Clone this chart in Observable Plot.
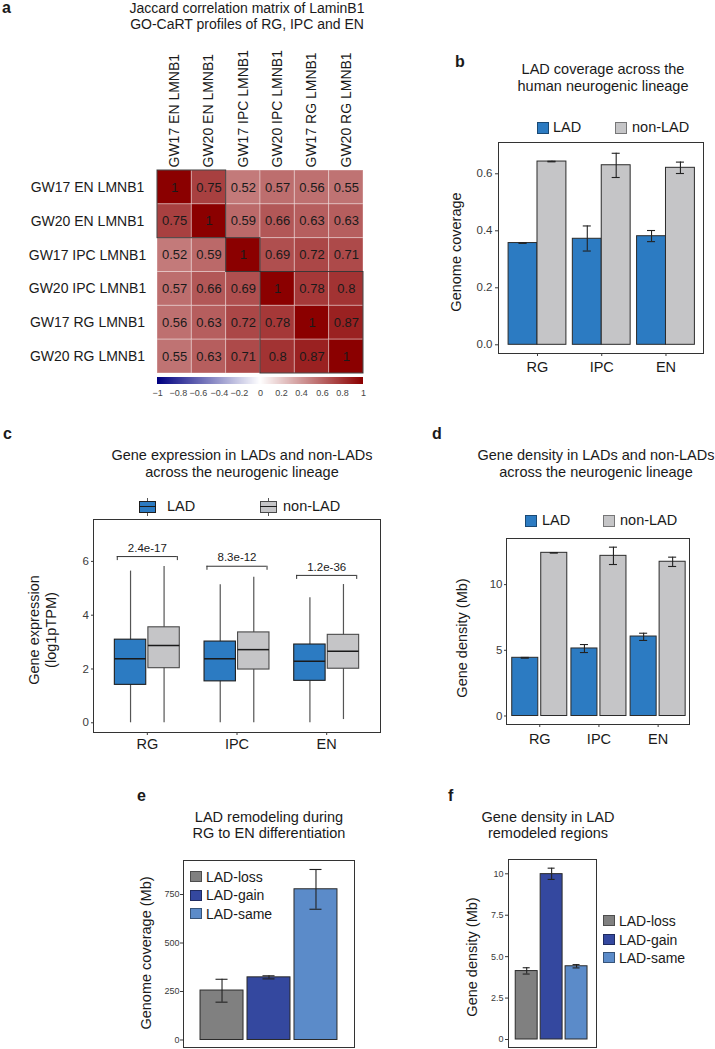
<!DOCTYPE html>
<html><head><meta charset="utf-8">
<script src="https://cdn.jsdelivr.net/npm/d3@7"></script>
<script src="https://cdn.jsdelivr.net/npm/@observablehq/plot@0.6"></script>
<style>
html,body{margin:0;padding:0;background:#fff;overflow:hidden}
#fig{position:relative;width:715px;height:1049px;font-family:"Liberation Sans",Arial,Helvetica,sans-serif;color:#1a1a1a;overflow:hidden;background:#fff}
#fig .t{position:absolute;white-space:nowrap;line-height:1}
#fig .sw{position:absolute;box-sizing:border-box}
</style></head><body><div id="fig"></div>
<script>
// ---------------- DATA ----------------
// (a) Jaccard matrix
const heatLabels = ["GW17 EN LMNB1","GW20 EN LMNB1","GW17 IPC LMNB1","GW20 IPC LMNB1","GW17 RG LMNB1","GW20 RG LMNB1"];
const jaccard = [
  [1, 0.75, 0.52, 0.57, 0.56, 0.55],
  [0.75, 1, 0.59, 0.66, 0.63, 0.63],
  [0.52, 0.59, 1, 0.69, 0.72, 0.71],
  [0.57, 0.66, 0.69, 1, 0.78, 0.8],
  [0.56, 0.63, 0.72, 0.78, 1, 0.87],
  [0.55, 0.63, 0.71, 0.8, 0.87, 1]
];
const clusterSizes = [2, 1, 3];
const colorbarTicks = [-1, -0.8, -0.6, -0.4, -0.2, 0, 0.2, 0.4, 0.6, 0.8, 1];
const heatColors = ["#000080", "#ffffff", "#8b0000"];

// shared categories
const lineages = ["RG", "IPC", "EN"];
const ladSeries = ["LAD", "non-LAD"];
const ladColors = ["#2c7bc2", "#c5c5c7"];

// (b) genome coverage
const covLAD = [0.357, 0.372, 0.381];
const covLADlo = [0.356, 0.329, 0.362];
const covLADhi = [0.358, 0.417, 0.401];
const covNon = [0.643, 0.630, 0.621];
const covNonLo = [0.642, 0.587, 0.601];
const covNonHi = [0.644, 0.672, 0.641];
const covTicks = [0, 0.2, 0.4, 0.6];

// (c) gene expression box stats (log1pTPM)
const exLADwlo = [0, 0, 0];
const exLADq1 = [1.41, 1.54, 1.56];
const exLADmed = [2.38, 2.38, 2.29];
const exLADq3 = [3.09, 3.02, 2.91];
const exLADwhi = [5.64, 5.13, 4.65];
const exNonWlo = [0, 0, 0.12];
const exNonQ1 = [2.03, 1.98, 2.01];
const exNonMed = [2.87, 2.72, 2.66];
const exNonQ3 = [3.55, 3.36, 3.27];
const exNonWhi = [5.81, 5.41, 5.14];
const pValues = ["2.4e-17", "8.3e-12", "1.2e-36"];
const bracketY = [6.18, 5.82, 5.48];
const exTicks = [0, 2, 4, 6];

// (d) gene density
const denLAD = [4.43, 5.14, 6.05];
const denLADlo = [4.40, 4.83, 5.75];
const denLADhi = [4.46, 5.44, 6.30];
const denNon = [12.42, 12.19, 11.74];
const denNonLo = [12.40, 11.53, 11.38];
const denNonHi = [12.44, 12.85, 12.09];
const denTicks = [0, 5, 10];

// (e) LAD remodeling coverage (Mb)
const remodelCats = ["LAD-loss", "LAD-gain", "LAD-same"];
const remodelColors = ["#808080", "#34489f", "#5b8bc9"];
const remCov = [255, 323, 777];
const remCovLo = [195, 315, 674];
const remCovHi = [313, 331, 879];
const remCovTicks = [0, 250, 500, 750];

// (f) gene density in remodeled regions
const remDen = [4.13, 9.98, 4.42];
const remDenLo = [3.95, 9.66, 4.32];
const remDenHi = [4.33, 10.34, 4.52];
const remDenTicks = [0, 2.5, 5, 7.5, 10];
const remDenTickLabels = ["0", "2.5", "5.0", "7.5", "10"];

// ---------------- HELPERS ----------------
const FONT = '"Liberation Sans", Arial, Helvetica, sans-serif';
const fig = document.getElementById("fig");
const style = {fontFamily: FONT, fontSize: "11px", color: "#3a3a3a", background: "none", overflow: "visible"};

function addText(str, x, baseline, o = {}) {
  const size = o.size ?? 14.5;
  const d = document.createElement("div");
  d.className = "t";
  d.textContent = str;
  d.style.fontSize = size + "px";
  d.style.left = x + "px";
  d.style.top = (baseline - 0.85 * size) + "px";
  if (o.weight) d.style.fontWeight = o.weight;
  if (o.anchor === "middle") d.style.transform = "translateX(-50%)";
  fig.appendChild(d);
}
function addVText(str, cx, cy, size = 14.5) {
  const d = document.createElement("div");
  d.className = "t";
  d.textContent = str;
  d.style.fontSize = size + "px";
  d.style.left = cx + "px";
  d.style.top = cy + "px";
  d.style.transform = "translate(-50%,-50%) rotate(-90deg)";
  fig.appendChild(d);
}
function addSwatch(x, y, w, h, fill) {
  const d = document.createElement("div");
  d.className = "sw";
  Object.assign(d.style, {left: x + "px", top: y + "px", width: w + "px", height: h + "px", background: fill, border: "1px solid rgba(0,0,0,0.4)"});
  fig.appendChild(d);
}
function addBoxIcon(x, y, fill, stroke) {
  const mk = (css) => { const d = document.createElement("div"); d.className = "sw"; Object.assign(d.style, css); fig.appendChild(d); };
  mk({left: (x + 8) + "px", top: (y - 3) + "px", width: "1px", height: "18px", background: "#555"});
  mk({left: x + "px", top: y + "px", width: "17px", height: "12px", background: fill, border: "1px solid " + stroke});
  mk({left: x + "px", top: (y + 5.5) + "px", width: "17px", height: "1.2px", background: "#1a1a1a"});
}
function place(el, left, top) {
  el.style.position = "absolute";
  el.style.left = left + "px";
  el.style.top = top + "px";
  fig.appendChild(el);
}
function framed(f, m) {
  return {width: m.l + (f.r - f.l) + m.r, height: m.t + (f.b - f.t) + m.b,
          marginLeft: m.l, marginTop: m.t, marginRight: m.r, marginBottom: m.b};
}

// ---------------- PANEL A ----------------
addText("a", 2, 14, {size: 16, weight: "bold"});
addText("Jaccard correlation matrix of LaminB1", 247, 12.5, {size: 14, anchor: "middle"});
addText("GO-CaRT profiles of RG, IPC and EN", 247, 29, {size: 14, anchor: "middle"});
{
  const cells = heatLabels.flatMap((r, i) => heatLabels.map((c, j) => ({row: i, col: j, value: jaccard[i][j]})));
  let s = 0;
  const clusters = clusterSizes.map(n => { const c = {from: s, to: s + n}; s += n; return c; });
  const f = {l: 157, t: 170, r: 363, b: 373}, m = {l: 157, t: 130, r: 2, b: 2};
  const n = heatLabels.length;
  const svg = Plot.plot({
    ...framed(f, m), style,
    x: {domain: [0, n]}, y: {domain: [0, n], reverse: true},
    color: {type: "linear", domain: [-1, 0, 1], range: heatColors},
    marks: [
      Plot.rect(cells, {x1: "col", x2: d => d.col + 1, y1: "row", y2: d => d.row + 1, fill: "value", stroke: "#ffffff", strokeOpacity: 0.35, strokeWidth: 1}),
      Plot.text(cells, {x: d => d.col + 0.5, y: d => d.row + 0.5, text: d => String(d.value), fontSize: 13, fill: "#1a1a1a"}),
      Plot.rect(clusters, {x1: "from", x2: "to", y1: "from", y2: "to", fill: "none", stroke: "#222", strokeWidth: 1, strokeOpacity: 0.85}),
      Plot.axisX({ticks: heatLabels.map((_, i) => i + 0.5), anchor: "top", tickRotate: -90, tickSize: 0, tickPadding: 3, tickFormat: d => heatLabels[Math.floor(d)], fontSize: 14, fill: "#1a1a1a", label: null}),
      Plot.axisY({ticks: heatLabels.map((_, i) => i + 0.5), anchor: "left", tickSize: 0, tickPadding: 70, textAnchor: "middle", tickFormat: d => heatLabels[Math.floor(d)], fontSize: 14, fill: "#1a1a1a", label: null})
    ]
  });
  place(svg, f.l - m.l, f.t - m.t);

  const ramp = Plot.legend({
    color: {type: "linear", domain: [-1, 0, 1], range: heatColors},
    width: 206, height: 22, marginTop: 0, marginBottom: 15, marginLeft: 0, marginRight: 0,
    ticks: colorbarTicks, tickSize: 0, tickFormat: d => d3.format("~g")(d), label: null,
    style: {fontFamily: FONT, fontSize: "9px", color: "#444", overflow: "visible", background: "none"}
  });
  ramp.querySelectorAll(".tick line").forEach(l => l.remove());
  ramp.querySelectorAll(".tick text").forEach(t => { t.setAttribute("y", 6); t.setAttribute("font-size", 9); });
  place(ramp, 157, 377);
}

// ---------------- BAR PANEL HELPER ----------------
function barPanel(cfg) {
  const {frame: f, m, xDomain, yDomain, rows, barWidth, capHalf, colorDomain, colorRange,
         yTicks, yTickFormat, yTick, yFont, xTick} = cfg;
  const marks = [
    Plot.rect(rows, {x1: d => d.x - barWidth / 2, x2: d => d.x + barWidth / 2, y1: () => 0, y2: "value", fill: "series", stroke: "#2b2b2b", strokeWidth: 1}),
    Plot.ruleX(rows, {x: "x", y1: "lo", y2: "hi", stroke: "#222", strokeWidth: 1.1}),
    Plot.ruleY(rows, {y: "lo", x1: d => d.x - capHalf, x2: d => d.x + capHalf, stroke: "#222", strokeWidth: 1.1}),
    Plot.ruleY(rows, {y: "hi", x1: d => d.x - capHalf, x2: d => d.x + capHalf, stroke: "#222", strokeWidth: 1.1}),
    Plot.frame({stroke: "#333", strokeWidth: 1}),
    Plot.axisY({ticks: yTicks, tickFormat: yTickFormat, tickSize: yTick[0], tickPadding: yTick[1], fontSize: yFont, label: null})
  ];
  if (xTick) marks.push(Plot.axisX({ticks: [1, 2, 3], tickFormat: i => lineages[i - 1], tickSize: xTick[0], tickPadding: xTick[1], fontSize: 14.5, fill: "#1a1a1a", label: null}));
  const svg = Plot.plot({
    ...framed(f, m), style,
    x: xTick ? {domain: xDomain} : {domain: xDomain, axis: null},
    y: {domain: yDomain},
    color: {domain: colorDomain, range: colorRange},
    marks
  });
  place(svg, f.l - m.l, f.t - m.t);
}

// ---------------- PANEL B ----------------
addText("b", 455, 68, {size: 16, weight: "bold"});
addText("LAD coverage across the", 603, 74.4, {anchor: "middle"});
addText("human neurogenic lineage", 603, 91.3, {anchor: "middle"});
addSwatch(537, 122, 12, 12, ladColors[0]);
addText(ladSeries[0], 553, 132.7);
addSwatch(615, 122, 12, 12, ladColors[1]);
addText(ladSeries[1], 632, 132.7);
addVText("Genome coverage", 456, 252);
barPanel({
  frame: {l: 498, t: 142, r: 703, b: 353}, m: {l: 45, t: 5, r: 5, b: 30},
  xDomain: [0.393, 3.584], yDomain: [-0.0305, 0.7098],
  rows: lineages.flatMap((g, i) => [
    {x: i + 1 - 0.225, series: "LAD", value: covLAD[i], lo: covLADlo[i], hi: covLADhi[i]},
    {x: i + 1 + 0.225, series: "non-LAD", value: covNon[i], lo: covNonLo[i], hi: covNonHi[i]}]),
  barWidth: 0.45, capHalf: 0.0625, colorDomain: ladSeries, colorRange: ladColors,
  yTicks: covTicks, yTickFormat: d3.format(".1f"), yTick: [3, 3], yFont: 11.5, xTick: [3, 5]
});

// ---------------- PANEL C ----------------
addText("c", 3, 440, {size: 16, weight: "bold"});
addText("Gene expression in LADs and non-LADs", 242, 460.5, {anchor: "middle"});
addText("across the neurogenic lineage", 242, 477.5, {anchor: "middle"});
addBoxIcon(139, 500.5, ladColors[0], "#1f1f1f");
addText(ladSeries[0], 167, 511.7);
addBoxIcon(260, 500.5, ladColors[1], "#4a4a4a");
addText(ladSeries[1], 283, 511.7);
addVText("Gene expression", 34, 630);
addVText("(log1pTPM)", 51, 630);
{
  const f = {l: 93, t: 519, r: 380, b: 732}, m = {l: 30, t: 5, r: 5, b: 30};
  const rows = lineages.flatMap((g, i) => [
    {x: i + 1 - 0.187, series: "LAD", wlo: exLADwlo[i], q1: exLADq1[i], med: exLADmed[i], q3: exLADq3[i], whi: exLADwhi[i]},
    {x: i + 1 + 0.187, series: "non-LAD", wlo: exNonWlo[i], q1: exNonQ1[i], med: exNonMed[i], q3: exNonQ3[i], whi: exNonWhi[i]}]);
  const brackets = lineages.map((g, i) => ({x: i + 1, y: bracketY[i], label: pValues[i]}));
  const hw = 0.175, bw = 0.335, tip = 0.15;
  const svg = Plot.plot({
    ...framed(f, m), style,
    x: {domain: [0.4, 3.6]}, y: {domain: [-0.361, 7.558]},
    color: {domain: ladSeries, range: ladColors},
    marks: [
      Plot.ruleX(rows, {x: "x", y1: "wlo", y2: "whi", stroke: "#555", strokeWidth: 1.2}),
      Plot.rect(rows, {filter: d => d.series === "LAD", x1: d => d.x - hw, x2: d => d.x + hw, y1: "q1", y2: "q3", fill: "series", stroke: "#1f1f1f", strokeWidth: 1.1}),
      Plot.rect(rows, {filter: d => d.series !== "LAD", x1: d => d.x - hw, x2: d => d.x + hw, y1: "q1", y2: "q3", fill: "series", stroke: "#4a4a4a", strokeWidth: 1.1}),
      Plot.ruleY(rows, {y: "med", x1: d => d.x - hw, x2: d => d.x + hw, stroke: "#1a1a1a", strokeWidth: 1.5}),
      Plot.ruleY(brackets, {y: "y", x1: d => d.x - bw, x2: d => d.x + bw, stroke: "#333", strokeWidth: 1}),
      Plot.ruleX(brackets, {x: d => d.x - bw, y1: d => d.y - tip, y2: "y", stroke: "#333", strokeWidth: 1}),
      Plot.ruleX(brackets, {x: d => d.x + bw, y1: d => d.y - tip, y2: "y", stroke: "#333", strokeWidth: 1}),
      Plot.text(brackets, {x: "x", y: "y", text: "label", dy: -8.5, fontSize: 11.5, fill: "#1a1a1a"}),
      Plot.frame({stroke: "#333", strokeWidth: 1}),
      Plot.axisY({ticks: exTicks, tickSize: 2, tickPadding: 2.5, fontSize: 11.5, label: null}),
      Plot.axisX({ticks: [1, 2, 3], tickFormat: i => lineages[i - 1], tickSize: 3, tickPadding: 3, fontSize: 14.5, fill: "#1a1a1a", label: null})
    ]
  });
  place(svg, f.l - m.l, f.t - m.t);
}

// ---------------- PANEL D ----------------
addText("d", 432, 440, {size: 16, weight: "bold"});
addText("Gene density in LADs and non-LADs", 596, 460.5, {anchor: "middle"});
addText("across the neurogenic lineage", 596, 477.5, {anchor: "middle"});
addSwatch(525, 515, 12, 12, ladColors[0]);
addText(ladSeries[0], 542, 525.7);
addSwatch(603, 515, 12, 12, ladColors[1]);
addText(ladSeries[1], 620, 525.7);
addVText("Gene density (Mb)", 462, 637.5);
barPanel({
  frame: {l: 506, t: 538, r: 689, b: 724}, m: {l: 30, t: 5, r: 5, b: 30},
  xDomain: [0.438, 3.53], yDomain: [-0.647, 13.51],
  rows: lineages.flatMap((g, i) => [
    {x: i + 1 - 0.245, series: "LAD", value: denLAD[i], lo: denLADlo[i], hi: denLADhi[i]},
    {x: i + 1 + 0.245, series: "non-LAD", value: denNon[i], lo: denNonLo[i], hi: denNonHi[i]}]),
  barWidth: 0.44, capHalf: 0.068, colorDomain: ladSeries, colorRange: ladColors,
  yTicks: denTicks, yTickFormat: d3.format("d"), yTick: [2, 2], yFont: 11.5, xTick: [3, 6]
});

// ---------------- PANEL E ----------------
addText("e", 137, 801.7, {size: 16, weight: "bold"});
addText("LAD remodeling during", 269, 822, {anchor: "middle"});
addText("RG to EN differentiation", 269, 838.7, {anchor: "middle"});
addVText("Genome coverage (Mb)", 146, 953);
barPanel({
  frame: {l: 183, t: 860, r: 354, b: 1047}, m: {l: 30, t: 3, r: 3, b: 1},
  xDomain: [0.18, 3.82], yDomain: [-38.7, 925.3],
  rows: remodelCats.map((c, i) => ({x: i + 1, series: c, value: remCov[i], lo: remCovLo[i], hi: remCovHi[i]})),
  barWidth: 0.915, capHalf: 0.128, colorDomain: remodelCats, colorRange: remodelColors,
  yTicks: remCovTicks, yTickFormat: d3.format("d"), yTick: [3, 1], yFont: 9, xTick: null
});
remodelCats.forEach((c, i) => {
  addSwatch(190, 871 + i * 18.5, 12, 11, remodelColors[i]);
  addText(c, 206, 881.7 + i * 18.5, {size: 14});
});

// ---------------- PANEL F ----------------
addText("f", 448, 801.7, {size: 16, weight: "bold"});
addText("Gene density in LAD", 548, 822, {anchor: "middle"});
addText("remodeled regions", 548, 838.7, {anchor: "middle"});
addVText("Gene density (Mb)", 472, 957);
barPanel({
  frame: {l: 508, t: 859, r: 596, b: 1047}, m: {l: 30, t: 3, r: 3, b: 1},
  xDomain: [0.27, 3.8], yDomain: [-0.483, 10.863],
  rows: remodelCats.map((c, i) => ({x: i + 1, series: c, value: remDen[i], lo: remDenLo[i], hi: remDenHi[i]})),
  barWidth: 0.88, capHalf: 0.14, colorDomain: remodelCats, colorRange: remodelColors,
  yTicks: remDenTicks, yTickFormat: d => remDenTickLabels[remDenTicks.indexOf(d)], yTick: [3, 2], yFont: 9, xTick: null
});
remodelCats.forEach((c, i) => {
  addSwatch(603, 915 + i * 18.5, 12, 11, remodelColors[i]);
  addText(c, 619, 926 + i * 18.5, {size: 14});
});
</script>
</body></html>
